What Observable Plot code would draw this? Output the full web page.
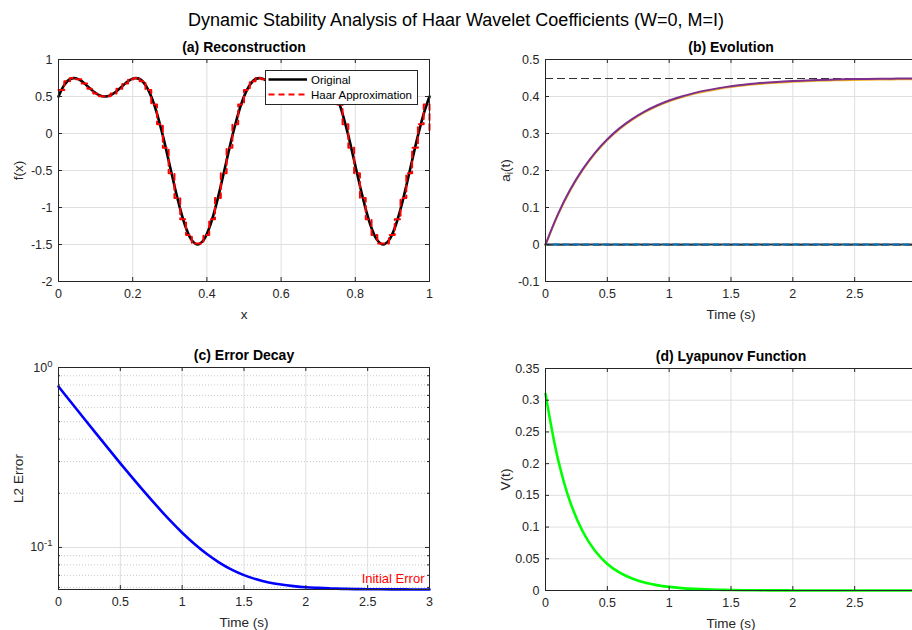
<!DOCTYPE html>
<html><head><meta charset="utf-8">
<script src="https://cdn.jsdelivr.net/npm/d3@7"></script>
<script src="https://cdn.jsdelivr.net/npm/@observablehq/plot@0.6"></script>
<style>
body{margin:0;background:#fff;}
#fig{position:relative;width:912px;height:630px;overflow:hidden;background:#fff;font-family:"Liberation Sans",Arial,Helvetica,sans-serif;}
#fig svg{position:absolute;}
#title{position:absolute;left:0;width:912px;top:10px;text-align:center;font-size:18px;color:#000;}
</style></head><body>
<div id="fig"><div id="title">Dynamic Stability Analysis of Haar Wavelet Coefficients (W=0, M=I)</div></div>
<script>
// ---------- data ----------
// (a) original signal sampled at x = k/64, k = 0..64
const fOrig = [0.5, 0.657, 0.7362, 0.7469, 0.7071, 0.6402, 0.5703, 0.5189, 0.5, 0.5189, 0.5703, 0.6402, 0.7071, 0.7469, 0.7362, 0.657,
  0.5, 0.2668, -0.0291, -0.3643, -0.7071, -1.0228, -1.2775, -1.4427, -1.5, -1.4427, -1.2775, -1.0228, -0.7071, -0.3643, -0.0291, 0.2668,
  0.5, 0.657, 0.7362, 0.7469, 0.7071, 0.6402, 0.5703, 0.5189, 0.5, 0.5189, 0.5703, 0.6402, 0.7071, 0.7469, 0.7362, 0.657,
  0.5, 0.2668, -0.0291, -0.3643, -0.7071, -1.0228, -1.2775, -1.4427, -1.5, -1.4427, -1.2775, -1.0228, -0.7071, -0.3643, -0.0291, 0.2668, 0.5];
// (a) Haar approximation: level on each interval [k/64,(k+1)/64], last value = value at x = 1
const haarLevels = [0.5884, 0.706, 0.7492, 0.7319, 0.6755, 0.6041, 0.5412, 0.5048, 0.5048, 0.5412, 0.6041, 0.6755, 0.7319, 0.7492, 0.706, 0.5884,
  0.3924, 0.1254, -0.1936, -0.5369, -0.8705, -1.1597, -1.3726, -1.4856, -1.4856, -1.3726, -1.1597, -0.8705, -0.5369, -0.1936, 0.1254, 0.3924,
  0.5884, 0.706, 0.7492, 0.7319, 0.6755, 0.6041, 0.5412, 0.5048, 0.5048, 0.5412, 0.6041, 0.6755, 0.7319, 0.7492, 0.706, 0.5884,
  0.3924, 0.1254, -0.1936, -0.5369, -0.8705, -1.1597, -1.3726, -1.4856, -1.4856, -1.3726, -1.1597, -0.8705, -0.5369, -0.1936, 0.1254, 0.3924, 0];
const xSample = d3.range(65).map(k => k / 64);

// time axis for (b), (c), (d)
const tVals = [0, 0.1, 0.2, 0.3, 0.4, 0.5, 0.6, 0.7, 0.8, 0.9, 1, 1.1, 1.2, 1.3, 1.4, 1.5, 1.6, 1.7, 1.8, 1.9, 2,
  2.1, 2.2, 2.3, 2.4, 2.5, 2.6, 2.7, 2.8, 2.9, 3];
// (b) coefficient trajectories
const aActive = [0, 0.0816, 0.1484, 0.203, 0.2478, 0.2845, 0.3145, 0.339, 0.3591, 0.3756, 0.3891, 0.4001, 0.4092, 0.4166, 0.4226, 0.4276,
  0.4316, 0.435, 0.4377, 0.4399, 0.4418, 0.4433, 0.4445, 0.4455, 0.4463, 0.447, 0.4475, 0.448, 0.4483, 0.4487, 0.4489];
const aZero = [0, 0, 0, 0, 0, 0, 0, 0, 0, 0, 0, 0, 0, 0, 0, 0, 0, 0, 0, 0, 0, 0, 0, 0, 0, 0, 0, 0, 0, 0, 0];
const aTargets = [0.45, 0];
// (c) L2 error
const errL2 = [0.7842, 0.6429, 0.5274, 0.4331, 0.3562, 0.2935, 0.2426, 0.2015, 0.1684, 0.1418, 0.1208, 0.1045, 0.0919, 0.0824, 0.0753, 0.0702,
  0.0665, 0.0639, 0.0622, 0.061, 0.0601, 0.0596, 0.0592, 0.0589, 0.0587, 0.0586, 0.05856, 0.0585, 0.0585, 0.0584, 0.0584];
const errRef = [0.0584];
// (d) Lyapunov function
const lyap = [0.31, 0.2078, 0.1393, 0.0934, 0.0626, 0.0419, 0.0281, 0.0188, 0.0126, 0.00846, 0.00567, 0.0038, 0.00255, 0.00171, 0.00115, 0.00077,
  0.00051, 0.00034, 0.00023, 0.00016, 0.0001, 0.00007, 0.00005, 0.00003, 0.00002, 0.00001, 0, 0, 0, 0, 0];

// tick labels
const xTicksA = [0, 0.2, 0.4, 0.6, 0.8, 1];
const yTicksA = [-2, -1.5, -1, -0.5, 0, 0.5, 1];
const tTicks = [0, 0.5, 1, 1.5, 2, 2.5, 3];
const tLabelsCut = [0, 0.5, 1, 1.5, 2, 2.5];   // the "3" falls outside the figure in (b), (d)
const yTicksB = [-0.1, 0, 0.1, 0.2, 0.3, 0.4, 0.5];
const yTicksC = [0.1, 1];
const yLabelsC = {0.1: "10^-1", 1: "10^0"};
const yMinorC = [0.06, 0.07, 0.08, 0.09, 0.2, 0.3, 0.4, 0.5, 0.6, 0.7, 0.8, 0.9];
const yTicksD = [0, 0.05, 0.1, 0.15, 0.2, 0.25, 0.3, 0.35];

// ---------- helpers ----------
const FONT = '"Liberation Sans", Arial, Helvetica, sans-serif';
const AX = "#262626", GRID = "#dfdfdf";
const FW = 371, FH = 222, TL = 4;
const fig = document.getElementById("fig");
const fmt = d => String(d);

function boxMarks(xt, yt, opts = {}) {
  return [
    Plot.frame({stroke: AX, strokeWidth: 1}),
    Plot.ruleX(xt, {x: d => d, insetTop: FH - TL, stroke: AX}),
    Plot.ruleX(xt, {x: d => d, insetBottom: FH - TL, stroke: AX}),
    Plot.ruleY(yt, {y: d => d, insetRight: FW - TL, stroke: AX}),
    Plot.ruleY(yt, {y: d => d, insetLeft: FW - TL, stroke: AX}),
    Plot.axisX(opts.xLabels || xt, {tickSize: 0, tickPadding: 8, tickFormat: fmt, label: null, fill: AX, fontSize: 12.5}),
    Plot.axisY(yt, {tickSize: 0, tickPadding: 6, tickFormat: opts.yFmt || fmt, label: null, fill: AX, fontSize: 12.5})
  ];
}
function labels(title, xl, yl) {
  return [
    Plot.text([title], {frameAnchor: "top", dy: -12, lineAnchor: "middle", fontWeight: "bold", fontSize: 14, fill: "#000"}),
    Plot.text([xl], {frameAnchor: "bottom", dy: 33, lineAnchor: "middle", fontSize: 13.5, fill: AX}),
    Plot.text([yl], {frameAnchor: "left", dx: -40, rotate: -90, textAnchor: "middle", lineAnchor: "middle", fontSize: 13.5, fill: AX})
  ];
}
function panel(left, top, width, height, mL, mR, mT, mB, x, y, marks) {
  const svg = Plot.plot({
    width, height, marginLeft: mL, marginRight: mR, marginTop: mT, marginBottom: mB,
    x, y,
    style: {fontFamily: FONT, fontSize: "12.5px", color: AX, background: "transparent", overflow: "visible"},
    marks
  });
  svg.style.position = "absolute";
  svg.style.left = left + "px";
  svg.style.top = top + "px";
  svg.style.maxWidth = "none";
  fig.appendChild(svg);
  return svg;
}
// turn "base^exp" / "base_sub" texts into real super/subscripts
function scriptify(svg) {
  d3.select(svg).selectAll("text").each(function () {
    if (this.children.length > 0) return;
    const s = this.textContent;
    const m = s.match(/^(.*?)([\^_])([^()]+)(.*)$/);
    if (!m) return;
    const t = d3.select(this);
    const up = m[2] === "^";
    const shift = up ? -5 : 3.5;
    t.text(null);
    t.append("tspan").text(m[1]);
    t.append("tspan").attr("dy", shift).attr("font-size", up ? 9.5 : 10).text(m[3]);
    if (m[4]) t.append("tspan").attr("dy", -shift).text(m[4]);
  });
}

// ---------- (a) Reconstruction ----------
panel(0, 40, 440, 290, 58, 11, 19, 49,
  {domain: [0, 1]}, {domain: [-2, 1]},
  [
    Plot.ruleX(xTicksA, {x: d => d, stroke: GRID}),
    Plot.ruleY(yTicksA, {y: d => d, stroke: GRID}),
    Plot.line(fOrig, {x: (d, i) => xSample[i], y: d => d, stroke: "#000", strokeWidth: 2.6, curve: "catmull-rom"}),
    Plot.line(haarLevels, {x: (d, i) => xSample[i], y: d => d, stroke: "#ff0000", strokeWidth: 2, strokeDasharray: "6,4", curve: "step-after"}),
    ...boxMarks(xTicksA, yTicksA),
    ...labels("(a) Reconstruction", "x", "f(x)")
  ]);

// legend for (a)
const leg = document.createElement("div");
leg.style.cssText = "position:absolute;left:265px;top:70px;width:151px;height:33px;background:#fff;border:1px solid #262626;";
leg.innerHTML = `<svg width="151" height="33" style="position:absolute;left:0;top:0;overflow:visible">
  <line x1="2.5" x2="41" y1="8.5" y2="8.5" stroke="#000" stroke-width="2.6"/>
  <line x1="2.5" x2="41" y1="23.5" y2="23.5" stroke="#ff0000" stroke-width="2" stroke-dasharray="6,4"/>
  <text x="45" y="8.5" dy="0.35em" font-size="11.5" fill="#000" font-family='${FONT}'>Original</text>
  <text x="45" y="23.5" dy="0.35em" font-size="11.5" fill="#000" font-family='${FONT}'>Haar Approximation</text>
</svg>`;
fig.appendChild(leg);

// ---------- (b) Evolution ----------
const svgB = panel(480, 40, 450, 290, 65, 14, 19, 49,
  {domain: [0, 3]}, {domain: [-0.1, 0.5]},
  [
    Plot.ruleX(tTicks, {x: d => d, stroke: GRID}),
    Plot.ruleY(yTicksB, {y: d => d, stroke: GRID}),
    Plot.ruleY(aTargets, {y: d => d, stroke: "#333", strokeWidth: 1, strokeDasharray: "8,4", dy: 0.5}),
    Plot.line(aZero, {x: (d, i) => tVals[i], y: d => d, stroke: "#333", strokeWidth: 2.2}),
    Plot.line(aZero, {x: (d, i) => tVals[i], y: d => d, stroke: "#0072BD", strokeWidth: 1.8, strokeDasharray: "5,5", strokeDashoffset: 2}),
    Plot.line(aActive, {x: (d, i) => tVals[i], y: d => d, stroke: "#EDB120", strokeWidth: 2, dy: 0.8, curve: "catmull-rom"}),
    Plot.line(aActive, {x: (d, i) => tVals[i], y: d => d, stroke: "#7E2F8E", strokeWidth: 2, curve: "catmull-rom"}),
    ...boxMarks(tTicks, yTicksB, {xLabels: tLabelsCut}),
    ...labels("(b) Evolution", "Time (s)", "a_i(t)")
  ]);
scriptify(svgB);

// ---------- (c) Error Decay ----------
const svgC = panel(0, 340, 440, 290, 58, 11, 27, 41,
  {domain: [0, 3]}, {type: "log", domain: [0.0584, 1]},
  [
    Plot.ruleX(tTicks, {x: d => d, stroke: GRID}),
    Plot.ruleY(yMinorC, {y: d => d, stroke: "#c8c8c8", strokeDasharray: "1,2"}),
    Plot.ruleY(yTicksC, {y: d => d, stroke: GRID}),
    Plot.ruleY(errRef, {y: d => d, stroke: "#b00000", strokeWidth: 1}),
    Plot.text(["Initial Error"], {x: 3, y: errRef[0], textAnchor: "end", lineAnchor: "middle", dx: -5, dy: -11, fill: "#ff0000", fontSize: 13}),
    Plot.line(errL2, {x: (d, i) => tVals[i], y: d => d, stroke: "#0000ff", strokeWidth: 2.6, curve: "catmull-rom"}),
    Plot.ruleY(yMinorC, {y: d => d, insetRight: FW - 2, stroke: AX}),
    Plot.ruleY(yMinorC, {y: d => d, insetLeft: FW - 2, stroke: AX}),
    ...boxMarks(tTicks, yTicksC, {yFmt: d => yLabelsC[d]}),
    ...labels("(c) Error Decay", "Time (s)", "L2 Error")
  ]);
scriptify(svgC);

// ---------- (d) Lyapunov Function ----------
panel(480, 340, 450, 290, 65, 14, 28, 40,
  {domain: [0, 3]}, {domain: [0, 0.35]},
  [
    Plot.ruleX(tTicks, {x: d => d, stroke: GRID}),
    Plot.ruleY(yTicksD, {y: d => d, stroke: GRID}),
    Plot.line(lyap, {x: (d, i) => tVals[i], y: d => d, stroke: "#00ff00", strokeWidth: 2.6, curve: "catmull-rom"}),
    ...boxMarks(tTicks, yTicksD, {xLabels: tLabelsCut}),
    ...labels("(d) Lyapunov Function", "Time (s)", "V(t)")
  ]);
</script>
</body></html>
